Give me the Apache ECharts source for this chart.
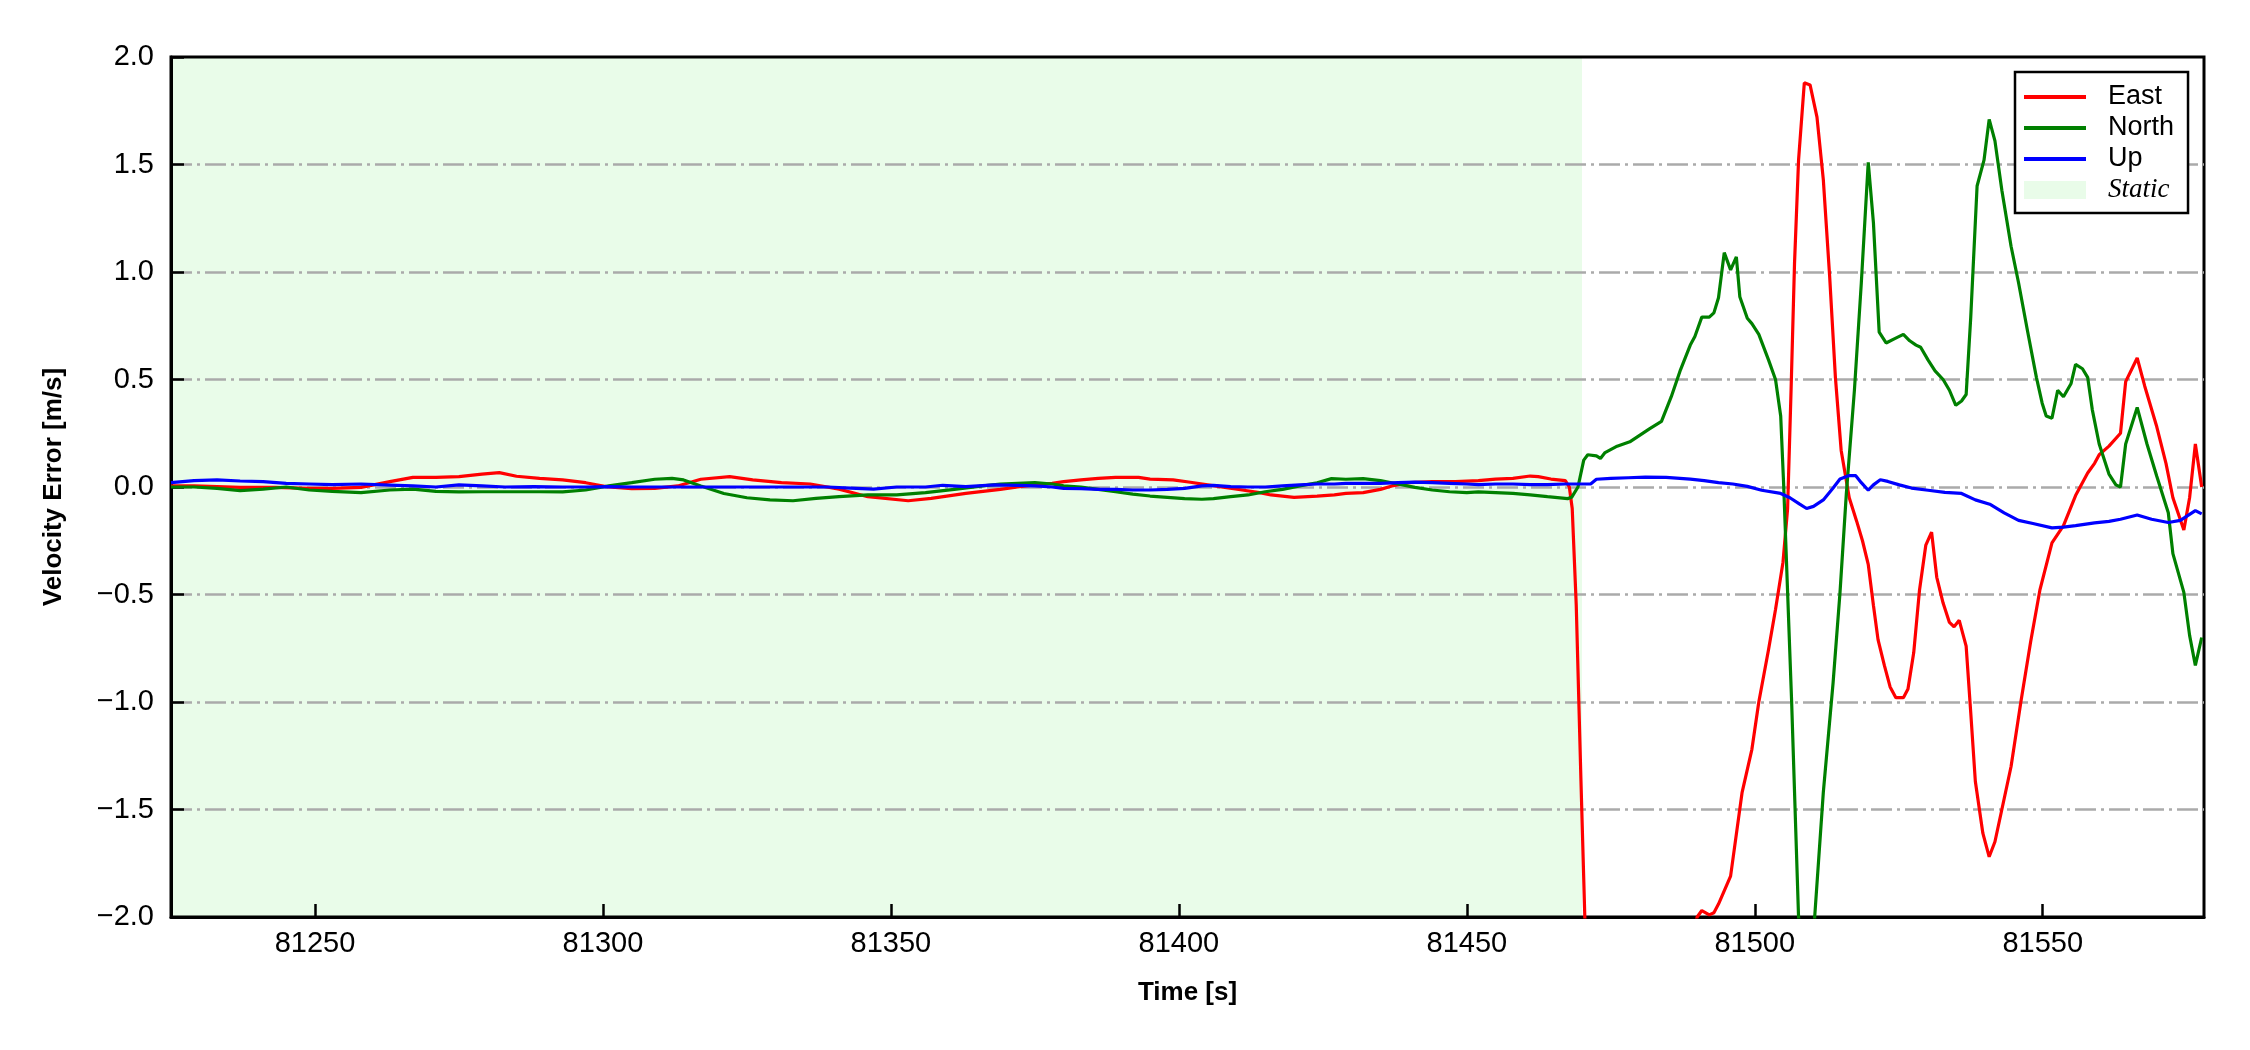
<!DOCTYPE html>
<html>
<head>
<meta charset="utf-8">
<script src="https://cdn.jsdelivr.net/npm/echarts@6/dist/echarts.min.js"></script>
<style>
html,body{margin:0;padding:0;background:#fff;}
#chart{width:2250px;height:1050px;}
</style>
</head>
<body>
<div id="chart"></div>
<script>
// ---- data ----
const xTickValues = [81250, 81300, 81350, 81400, 81450, 81500, 81550];
const staticStart = 81225;
const staticEnd = 81470;

const eastT = [81225,81229,81233,81237,81243,81249,81253,81258,81263,81267,81271,81275,81279,81282,81285,81289,81293,81297,81301,81305,81309,81313,81317,81322,81326,81331,81336,81341,81346,81353,81357,81363,81369,81372,81375,81378,81380,81383,81386,81389,81393,81395,81399,81402,81405,81408,81411,81414,81416,81420,81424,81427,81429,81432,81435,81437,81440,81444,81448,81452,81455,81458,81461,81462.4,81464.6,81467.1,81467.8,81468.3,81469.0,81469.8,81470.7,81472,81480,81488,81489.5,81490.0,81490.8,81492.1,81492.9,81493.7,81495.8,81497.8,81499.5,81500.7,81502.4,81503.6,81504.9,81505.7,81506.3,81506.9,81507.6,81508.6,81509.6,81510.8,81511.9,81513.0,81514.0,81515.0,81516.4,81517.7,81518.7,81519.7,81520.6,81521.4,81522.5,81523.5,81524.5,81525.8,81526.6,81527.6,81528.6,81529.7,81530.7,81531.6,81532.7,81533.8,81534.6,81535.5,81536.7,81537.5,81538.3,81539.6,81540.7,81541.7,81542.9,81544.5,81546.2,81547.9,81549.5,81551.6,81553.6,81555.7,81557.8,81559.0,81559.8,81561.5,81563.5,81564.4,81566.4,81567.7,81569.8,81571.4,81572.6,81574.5,81575.5,81576.5,81577.6];
const eastV = [0.005,0.005,0.002,-0.002,-0.002,-0.006,-0.006,-0.002,0.025,0.045,0.045,0.048,0.06,0.067,0.05,0.04,0.033,0.02,0.0,-0.008,-0.006,0.005,0.036,0.048,0.033,0.02,0.014,-0.01,-0.045,-0.064,-0.053,-0.03,-0.011,0.0,0.01,0.017,0.025,0.033,0.04,0.045,0.045,0.037,0.033,0.022,0.01,-0.002,-0.014,-0.026,-0.037,-0.048,-0.042,-0.037,-0.03,-0.026,-0.011,0.005,0.02,0.025,0.025,0.03,0.037,0.04,0.051,0.048,0.037,0.03,0.0,-0.1,-0.55,-1.35,-2.2,-2.6,-2.7,-2.5,-2.05,-2.0,-1.97,-1.99,-1.98,-1.94,-1.81,-1.42,-1.22,-1.0,-0.755,-0.57,-0.35,-0.1,0.45,1.04,1.52,1.88,1.87,1.72,1.43,0.98,0.51,0.17,-0.05,-0.16,-0.25,-0.36,-0.55,-0.71,-0.83,-0.93,-0.98,-0.98,-0.94,-0.77,-0.48,-0.27,-0.21,-0.42,-0.54,-0.63,-0.65,-0.62,-0.74,-1.05,-1.37,-1.61,-1.72,-1.65,-1.5,-1.30,-1.0,-0.72,-0.48,-0.26,-0.18,-0.04,0.065,0.11,0.15,0.19,0.25,0.49,0.6,0.47,0.28,0.11,-0.05,-0.2,-0.05,0.2,0.0];

const northT = [81225,81229,81233,81237,81241,81245,81249,81253,81258,81263,81267,81271,81275,81279,81285,81289,81293,81297,81301,81305,81309,81312,81314,81317,81321,81325,81329,81333,81337,81341,81346,81351,81356,81361,81366,81369,81372,81375,81378,81380,81383,81386,81389,81392,81395,81398,81401,81404,81406,81409,81412,81415,81418,81421,81424,81426.5,81429,81432,81435,81438,81441,81444,81447,81450,81452,81455,81458,81461,81464,81467.5,81468.2,81469.3,81470.3,81471.0,81472.5,81473.2,81474.0,81476.1,81478.3,81481.7,81483.8,81485.5,81487.1,81488.8,81489.6,81490.8,81492.1,81492.9,81493.7,81494.7,81495.8,81496.8,81497.4,81498.7,81499.5,81500.7,81502.4,81503.6,81504.5,81505.0,81506.4,81507.6,81508.6,81509.4,81510.4,81511.9,81513.6,81514.8,81515.9,81517.3,81518.5,81519.7,81520.6,81521.6,81522.8,81524.3,81525.8,81526.9,81528.0,81528.8,81530.1,81531.3,81532.7,81533.8,81534.9,81535.9,81536.7,81537.5,81538.6,81539.8,81540.7,81541.7,81542.9,81544.5,81545.8,81547.4,81548.9,81549.9,81550.6,81551.6,81552.6,81553.6,81554.9,81555.7,81556.9,81557.8,81558.6,81559.8,81561.5,81562.7,81563.5,81564.4,81566.4,81568.1,81569.8,81571.8,81572.6,81574.5,81575.5,81576.5,81577.6];
const northV = [0.0,0.0,-0.006,-0.017,-0.01,0.0,-0.014,-0.02,-0.026,-0.014,-0.01,-0.02,-0.023,-0.022,-0.022,-0.022,-0.023,-0.014,0.005,0.02,0.036,0.04,0.033,0.005,-0.03,-0.05,-0.06,-0.064,-0.053,-0.045,-0.037,-0.037,-0.026,-0.011,0.005,0.014,0.017,0.02,0.014,0.005,0.0,-0.011,-0.022,-0.033,-0.042,-0.048,-0.054,-0.057,-0.054,-0.045,-0.037,-0.022,-0.011,0.005,0.02,0.039,0.036,0.039,0.03,0.014,-0.002,-0.014,-0.022,-0.026,-0.023,-0.026,-0.03,-0.037,-0.045,-0.054,-0.048,0.0,0.125,0.15,0.145,0.133,0.16,0.19,0.21,0.27,0.305,0.42,0.545,0.66,0.7,0.79,0.79,0.81,0.88,1.09,1.01,1.07,0.885,0.785,0.76,0.71,0.59,0.5,0.33,0.02,-1.0,-2.0,-2.6,-2.6,-2.0,-1.42,-0.91,-0.49,-0.03,0.45,0.95,1.51,1.23,0.72,0.67,0.69,0.71,0.68,0.66,0.65,0.59,0.54,0.5,0.45,0.38,0.40,0.43,0.79,1.4,1.52,1.71,1.61,1.38,1.12,0.95,0.72,0.51,0.39,0.33,0.32,0.45,0.42,0.48,0.57,0.55,0.51,0.36,0.2,0.06,0.01,0.0,0.2,0.37,0.2,0.05,-0.12,-0.31,-0.49,-0.69,-0.83,-0.7];

const upT = [81225,81229,81233,81237,81241,81245,81249,81253,81258,81263,81267,81271,81275,81279,81283,81288,81293,81297,81301,81305,81309,81313,81319,81323,81329,81333,81339,81343,81347,81351,81356,81359,81363,81368,81372,81375,81378,81380,81383,81386,81389,81392,81395,81398,81401,81404,81406,81409,81412,81415,81418,81421,81424,81427,81429,81432,81435,81438,81441,81444,81447,81450,81452,81455,81458,81461,81464,81467,81470,81471.5,81472.5,81475,81478,81481,81484.6,81488.8,81491.2,81493.7,81496.2,81498.7,81501.2,81504.5,81506.1,81507.8,81509.0,81510.2,81511.9,81513.6,81514.8,81516.4,81517.5,81518.5,81519.7,81520.6,81521.8,81523.1,81525.1,81527.2,81530.1,81533.0,81535.9,81538.3,81540.8,81543.3,81545.8,81548.3,81551.6,81553.6,81555.7,81559.0,81561.5,81563.5,81566.4,81568.9,81571.8,81573.9,81576.5,81577.6];
const upV = [0.02,0.03,0.033,0.028,0.025,0.017,0.014,0.011,0.014,0.009,0.005,0.0,0.01,0.005,0.0,0.002,0.0,0.0,0.002,0.0,0.0,0.0,0.0,0.0,0.0,0.0,0.0,-0.005,-0.01,0.0,0.0,0.008,0.002,0.01,0.008,0.005,0.0,-0.006,-0.008,-0.011,-0.011,-0.014,-0.014,-0.011,-0.006,0.005,0.008,0.002,0.0,0.0,0.005,0.01,0.014,0.014,0.017,0.017,0.017,0.02,0.023,0.02,0.017,0.014,0.011,0.014,0.014,0.011,0.011,0.014,0.014,0.014,0.036,0.04,0.043,0.046,0.045,0.037,0.03,0.02,0.014,0.003,-0.015,-0.03,-0.05,-0.08,-0.1,-0.09,-0.06,-0.005,0.037,0.053,0.053,0.02,-0.015,0.01,0.034,0.026,0.01,-0.005,-0.015,-0.025,-0.03,-0.06,-0.08,-0.12,-0.155,-0.17,-0.19,-0.187,-0.18,-0.167,-0.16,-0.15,-0.13,-0.15,-0.165,-0.155,-0.11,-0.125];

const seriesNames = ['East', 'North', 'Up', 'Static'];

// ---- chart ----
const zip = (t, v) => t.map((x, i) => [x, v[i]]);
const FONT = 'Liberation Sans, Arial, Helvetica, sans-serif';
const LINE_ICON = 'path://M0,0L62,0L62,4.2L0,4.2Z';
const chart = echarts.init(document.getElementById('chart'));

function lineSeries(name, t, v, color) {
  return {
    name: name, type: 'line', data: zip(t, v),
    symbol: 'none', showSymbol: false, clip: true,
    lineStyle: { color: color, width: 3.2 },
    itemStyle: { color: color },
    z: 3, animation: false
  };
}

const option = {
  animation: false,
  backgroundColor: '#ffffff',
  grid: { left: 171, top: 57, width: 2033, height: 860, show: true, z: 1,
          borderColor: '#000', borderWidth: 3, backgroundColor: 'transparent' },
  xAxis: {
    type: 'value', min: 81225, max: 81578, z: 2,
    name: 'Time [s]', nameLocation: 'middle', nameGap: 63,
    nameTextStyle: { fontFamily: FONT, fontWeight: 'bold', fontSize: 26, color: '#000' },
    axisLine: { show: true, onZero: false, lineStyle: { color: '#000', width: 3 } },
    axisTick: { show: true, inside: true, length: 13, customValues: xTickValues,
                lineStyle: { color: '#000', width: 2.5 } },
    axisLabel: { show: true, margin: 12, customValues: xTickValues,
                 fontFamily: FONT, fontSize: 29, color: '#000',
                 formatter: v => String(v) },
    splitLine: { show: false }
  },
  yAxis: {
    type: 'value', min: -2, max: 2, interval: 0.5, z: 2,
    name: 'Velocity Error [m/s]', nameLocation: 'middle', nameGap: 104,
    nameTextStyle: { fontFamily: FONT, fontWeight: 'bold', fontSize: 26, color: '#000' },
    axisLine: { show: true, onZero: false, lineStyle: { color: '#000', width: 3 } },
    axisTick: { show: true, inside: true, length: 13, lineStyle: { color: '#000', width: 2.5 } },
    axisLabel: { show: true, margin: 17, fontFamily: FONT, fontSize: 29, color: '#000',
                 formatter: v => (v < 0 ? '\u2212' : '') + Math.abs(v).toFixed(1) },
    splitLine: { show: true, showMinLine: false, showMaxLine: false,
                 lineStyle: { color: '#aaaaaa', width: 2.5, type: [21, 5, 3, 5] } }
  },
  legend: {
    show: true, orient: 'vertical', left: 2015, top: 72, z: 10,
    padding: [11, 14, 9, 9], itemGap: 3, itemWidth: 62, itemHeight: 18,
    symbolKeepAspect: true,
    borderColor: '#000', borderWidth: 2.5, borderRadius: 0, backgroundColor: '#fff',
    textStyle: { fontFamily: FONT, fontSize: 27, color: '#000', padding: [0, 0, 0, 17], lineHeight: 28 },
    data: [
      { name: 'East', icon: LINE_ICON },
      { name: 'North', icon: LINE_ICON },
      { name: 'Up', icon: LINE_ICON },
      { name: 'Static', icon: 'rect',
        textStyle: { fontFamily: 'Liberation Serif, Times New Roman, serif', fontStyle: 'italic', fontSize: 27 } }
    ]
  },
  series: [
    lineSeries(seriesNames[0], eastT, eastV, '#ff0000'),
    lineSeries(seriesNames[1], northT, northV, '#008000'),
    lineSeries(seriesNames[2], upT, upV, '#0000ff'),
    {
      name: seriesNames[3], type: 'line', data: [], symbol: 'none', z: -1,
      itemStyle: { color: 'rgb(233,252,233)' }, lineStyle: { color: 'rgb(233,252,233)' },
      markArea: {
        silent: true, z: -1,
        itemStyle: { color: 'rgb(233,252,233)' },
        data: [[{ xAxis: staticStart }, { xAxis: staticEnd }]]
      }
    }
  ]
};
chart.setOption(option);
</script>
</body>
</html>
